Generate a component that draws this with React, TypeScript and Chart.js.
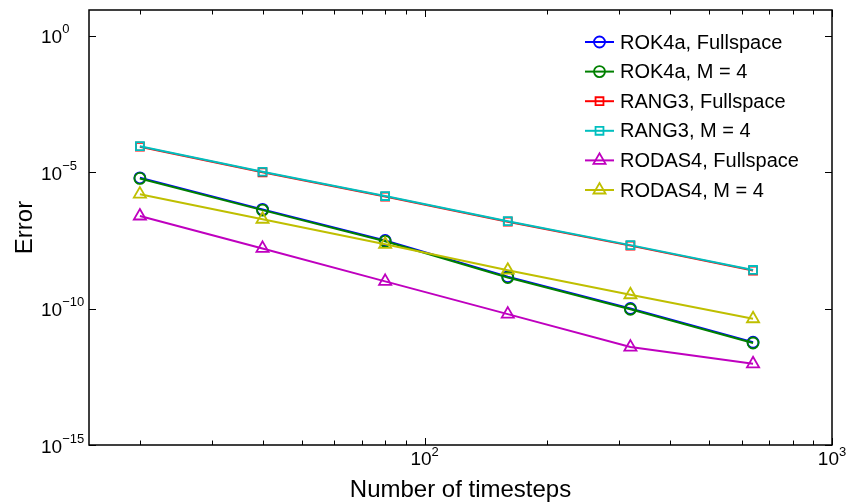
import React, { useEffect, useRef } from "react";
import { Chart, registerables } from "chart.js";

Chart.register(...registerables);

// ---- data ----
const timesteps = [20, 40, 80, 160, 320, 640];
const rok4aFull = [6.31e-6, 4.37e-7, 3.16e-8, 1.48e-9, 1.02e-10, 5.9e-12];
const rok4aM4 = [5.95e-6, 4.1e-7, 2.95e-8, 1.38e-9, 9.5e-11, 5.5e-12];
const rang3Full = [8.7e-5, 1.0e-5, 1.29e-6, 1.55e-7, 2.05e-8, 2.5e-9];
const rang3M4 = [9.1e-5, 1.05e-5, 1.35e-6, 1.62e-7, 2.14e-8, 2.63e-9];
const rodas4Full = [2.5e-7, 1.62e-8, 1.0e-9, 6.3e-11, 3.9e-12, 9.5e-13];
const rodas4M4 = [1.58e-6, 1.9e-7, 2.29e-8, 2.57e-9, 3.24e-10, 4.27e-11];

const seriesLabels = [
  "ROK4a, Fullspace",
  "ROK4a, M = 4",
  "RANG3, Fullspace",
  "RANG3, M = 4",
  "RODAS4, Fullspace",
  "RODAS4, M = 4",
];

const xMajorTicks = [100, 1000];
const xTickExps = ["2", "3"];
const xMinorTicks = [20, 30, 40, 50, 60, 70, 80, 90, 200, 300, 400, 500, 600, 700, 800, 900];
const yMajorTicks = [1, 1e-5, 1e-10, 1e-15];
const yTickExps = ["0", "\u22125", "\u221210", "\u221215"];

const xTitle = "Number of timesteps";
const yTitle = "Error";

// ---- styles ----
const FONT = '"Liberation Sans", Arial, Helvetica, sans-serif';
const colors = ["#0000ff", "#008000", "#ff0000", "#00bfbf", "#bf00bf", "#bfbf00"];
const markers = ["circle", "circle", "rect", "rect", "triangle", "triangle"];
const markerRadius = [5.5, 5.5, 5.6, 5.6, 7, 7];

function drawMarker(ctx: CanvasRenderingContext2D, style: string, x: number, y: number, r: number) {
  ctx.beginPath();
  if (style === "circle") {
    ctx.arc(x, y, r, 0, Math.PI * 2);
  } else if (style === "rect") {
    const s = r * Math.SQRT1_2;
    ctx.rect(x - s, y - s, 2 * s, 2 * s);
  } else {
    const edge = (3 * r) / Math.sqrt(3);
    const h = (edge * Math.sqrt(3)) / 2;
    ctx.moveTo(x - edge / 2, y + h / 3);
    ctx.lineTo(x + edge / 2, y + h / 3);
    ctx.lineTo(x, y - (2 * h) / 3);
    ctx.closePath();
  }
  ctx.stroke();
}

const decorPlugin = {
  id: "decor",
  afterDraw(chart: any) {
    const { ctx, chartArea: a, scales } = chart;
    const xs = scales.x;
    const ys = scales.y;
    ctx.save();
    // box
    ctx.strokeStyle = "#000";
    ctx.lineWidth = 1.5;
    ctx.strokeRect(a.left, a.top, a.right - a.left, a.bottom - a.top);
    // x ticks
    ctx.lineWidth = 1;
    ctx.beginPath();
    xMinorTicks.forEach((v) => {
      const px = Math.round(xs.getPixelForValue(v)) + 0.5;
      ctx.moveTo(px, a.bottom);
      ctx.lineTo(px, a.bottom - 4.5);
      ctx.moveTo(px, a.top);
      ctx.lineTo(px, a.top + 4.5);
    });
    xMajorTicks.forEach((v) => {
      const px = Math.round(xs.getPixelForValue(v)) + 0.5;
      ctx.moveTo(px, a.bottom);
      ctx.lineTo(px, a.bottom - 7);
      ctx.moveTo(px, a.top);
      ctx.lineTo(px, a.top + 7);
    });
    yMajorTicks.forEach((v) => {
      const py = Math.round(ys.getPixelForValue(v)) + 0.5;
      ctx.moveTo(a.left, py);
      ctx.lineTo(a.left + 7, py);
      ctx.moveTo(a.right, py);
      ctx.lineTo(a.right - 7, py);
    });
    ctx.stroke();

    // tick labels
    ctx.fillStyle = "#000";
    ctx.textBaseline = "alphabetic";
    ctx.textAlign = "left";
    const baseFont = `19px ${FONT}`;
    const expFont = `13px ${FONT}`;
    xMajorTicks.forEach((v, i) => {
      const px = xs.getPixelForValue(v);
      ctx.font = baseFont;
      const wb = ctx.measureText("10").width;
      ctx.font = expFont;
      const we = ctx.measureText(xTickExps[i]).width;
      const x0 = px - (wb + we) / 2;
      ctx.font = baseFont;
      ctx.fillText("10", x0, a.bottom + 19.5);
      ctx.font = expFont;
      ctx.fillText(xTickExps[i], x0 + wb, a.bottom + 11);
    });
    yMajorTicks.forEach((v, i) => {
      const py = ys.getPixelForValue(v);
      ctx.font = baseFont;
      const wb = ctx.measureText("10").width;
      ctx.fillText("10", 41, py + 7.5);
      ctx.font = expFont;
      ctx.fillText(yTickExps[i], 41 + wb, py - 2.5);
    });

    // axis titles
    ctx.font = `24px ${FONT}`;
    ctx.textAlign = "center";
    ctx.fillText(xTitle, (a.left + a.right) / 2, 497);
    ctx.save();
    ctx.translate(31.5, (a.top + a.bottom) / 2);
    ctx.rotate(-Math.PI / 2);
    ctx.font = `24px ${FONT}`;
    ctx.fillText(yTitle, 0, 0);
    ctx.restore();

    // legend
    ctx.font = `20px ${FONT}`;
    ctx.textAlign = "left";
    ctx.textBaseline = "middle";
    seriesLabels.forEach((lab, i) => {
      const y = 42 + i * 29.6;
      ctx.strokeStyle = colors[i];
      ctx.lineWidth = 2;
      ctx.beginPath();
      ctx.moveTo(585, y);
      ctx.lineTo(614, y);
      ctx.stroke();
      ctx.lineWidth = 1.8;
      drawMarker(ctx, markers[i], 599.5, y, markerRadius[i]);
      ctx.fillStyle = "#000";
      ctx.fillText(lab, 620, y + 1);
    });
    ctx.restore();
  },
};

export default function App() {
  const ref = useRef<HTMLCanvasElement | null>(null);
  useEffect(() => {
    if (!ref.current) return;
    const series = [rok4aFull, rok4aM4, rang3Full, rang3M4, rodas4Full, rodas4M4];
    const chart = new Chart(ref.current, {
      type: "line",
      data: {
        datasets: series.map((vals, i) => ({
          label: seriesLabels[i],
          data: timesteps.map((x, j) => ({ x, y: vals[j] })),
          borderColor: colors[i],
          borderWidth: 2,
          backgroundColor: "rgba(0,0,0,0)",
          pointStyle: markers[i] as any,
          pointRadius: markerRadius[i],
          pointBorderWidth: 1.8,
          pointBorderColor: colors[i],
          pointBackgroundColor: "rgba(0,0,0,0)",
          fill: false,
          tension: 0,
          order: 6 - i,
        })),
      },
      options: {
        animation: false,
        responsive: false,
        maintainAspectRatio: false,
        devicePixelRatio: 1,
        layout: { padding: { left: 89, top: 10, right: 16, bottom: 57 } },
        plugins: { legend: { display: false }, tooltip: { enabled: false } },
        scales: {
          x: { type: "logarithmic", min: 15, max: 1000, display: false },
          y: { type: "logarithmic", min: 1e-15, max: Math.pow(10, 0.953), display: false },
        },
      },
      plugins: [decorPlugin],
    });
    return () => chart.destroy();
  }, []);
  return (
    <div style={{ position: "absolute", left: 0, top: 0, width: 848, height: 502, background: "#fff" }}>
      <canvas ref={ref} width={848} height={502} style={{ display: "block" }} />
    </div>
  );
}
